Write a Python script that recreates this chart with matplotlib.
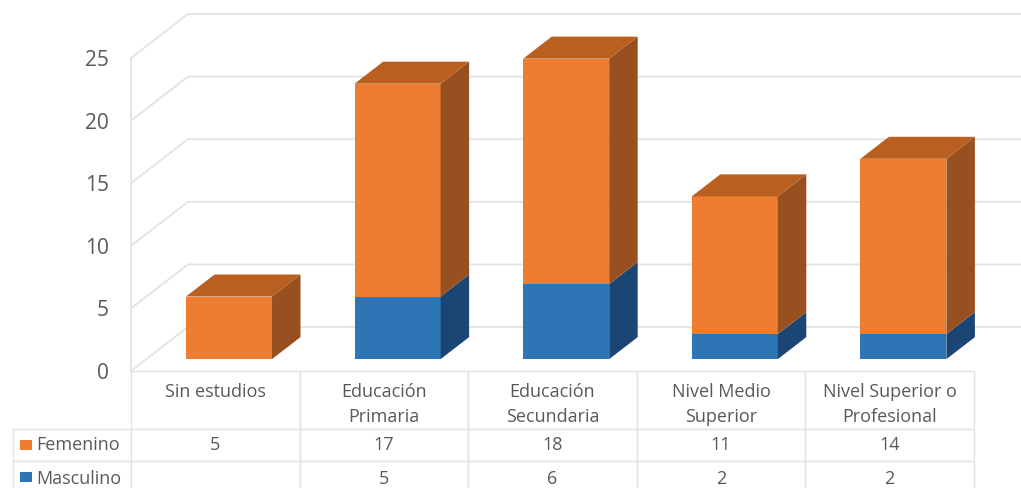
import matplotlib.pyplot as plt
from matplotlib.patches import Rectangle
from matplotlib.table import Table

categories = ["Sin estudios", "Educación\nPrimaria", "Educación\nSecundaria",
              "Nivel Medio\nSuperior", "Nivel Superior o\nProfesional"]
femenino = [5, 17, 18, 11, 14]
masculino = [None, 5, 6, 2, 2]
yticks = [0, 5, 10, 15, 20, 25]

W, H = 1021, 488
LEFT, RIGHT, FLOOR, TOP = 131, 974, 371, 58  # front plane, pixels from top left
COL_PX = (RIGHT - LEFT) / len(categories)
PX_PER_UNIT = (FLOOR - TOP) / 25

# oblique depth of the fake 3d box
DEPTH_X = 57 / COL_PX
DEPTH_Y = 44 / PX_PER_UNIT
BAR_FRONT, BAR_BACK = 0.27, 0.77
BAR_LEFT, BAR_W = 0.235, 0.51

GRID = "#e3e3e3"
TEXT = "#595959"
ORANGE = ("#ed7d31", "#b95f20", "#985020")
BLUE = ("#2e75b6", "#225a8f", "#1b4674")

plt.rcParams["font.family"] = ["Open Sans", "DejaVu Sans"]


def project(x, y, depth):
    return x + depth * DEPTH_X, y + depth * DEPTH_Y


def draw_box(ax, x, bottom, height, colors, show_top):
    x0, x1 = x + BAR_LEFT, x + BAR_LEFT + BAR_W
    y0, y1 = bottom, bottom + height
    fx0, fy0 = project(x0, y0, BAR_FRONT)
    fx1, fy1 = project(x1, y1, BAR_FRONT)
    bx0, by0 = project(x0, y0, BAR_BACK)
    bx1, by1 = project(x1, y1, BAR_BACK)
    ax.bar(fx0, height, width=fx1 - fx0, bottom=fy0, align="edge", color=colors[0],
           lw=0, zorder=3, clip_on=False)
    ax.fill([fx1, bx1, bx1, fx1], [fy0, by0, by1, fy1], color=colors[2], lw=0, zorder=3, clip_on=False)
    if show_top:
        ax.fill([fx0, fx1, bx1, bx0], [fy1, fy1, by1, by1], color=colors[1], lw=0, zorder=3, clip_on=False)


fig = plt.figure(figsize=(W / 100, H / 100), dpi=100)
ax = fig.add_axes([LEFT / W, 1 - FLOOR / H, (RIGHT - LEFT) / W, (FLOOR - TOP) / H])
ax.set_xlim(0, len(categories))
ax.set_ylim(0, 25)
for s in ax.spines.values():
    s.set_visible(False)
ax.patch.set_visible(False)
ax.set_xticks([])
ax.set_yticks(yticks)
ax.tick_params(axis="y", length=0, pad=16, labelsize=15, labelcolor=TEXT)

# walls
n = len(categories)
for v in yticks:
    x_a, y_a = project(0, v, 0)
    x_b, y_b = project(0, v, 1)
    x_c, y_c = project(n, v, 1)
    ax.plot([x_a, x_b, x_c], [y_a, y_b, y_c], color=GRID, lw=1.3, zorder=1, clip_on=False)
ax.plot([0, 0], [0, 25], color=GRID, lw=1.3, zorder=1, clip_on=False)

# stacked boxes
for i in range(n):
    base = 0
    if masculino[i]:
        draw_box(ax, i, 0, masculino[i], BLUE, False)
        base = masculino[i]
    draw_box(ax, i, base, femenino[i], ORANGE, True)

# data table below the plot
row_h = [58, 32, 37]
label_w = LEFT - 13
total_w = RIGHT - 13
total_h = sum(row_h)
tb = Table(ax, bbox=[-label_w / (RIGHT - LEFT), -total_h / (FLOOR - TOP),
                     total_w / (RIGHT - LEFT), total_h / (FLOOR - TOP)])
tb.auto_set_font_size(False)
for c, name in enumerate(categories):
    tb.add_cell(0, c + 1, COL_PX, row_h[0], edgecolor=GRID)
    # header labels sit at the top of their cell, single line ones too
    ax.text(c + 0.5, -12 / PX_PER_UNIT, name, ha="center", va="top", fontsize=13,
            color=TEXT, linespacing=1.5)
rows = [("Femenino", femenino, ORANGE[0]), ("Masculino", masculino, BLUE[0])]
for r, (name, values, color) in enumerate(rows):
    cell = tb.add_cell(r + 1, 0, label_w, row_h[r + 1], text=name, loc="left", edgecolor=GRID)
    cell.PAD = 0.2
    cell.get_text().set_color(TEXT)
    for c, val in enumerate(values):
        txt = "" if val is None else str(val)
        cell = tb.add_cell(r + 1, c + 1, COL_PX, row_h[r + 1], text=txt, loc="center", edgecolor=GRID)
        cell.get_text().set_color(TEXT)
    # legend key
    top = FLOOR + row_h[0] + sum(row_h[1:r + 1])
    fig.add_artist(Rectangle((20 / W, 1 - (top + 21) / H), 12 / W, 10 / H,
                             transform=fig.transFigure, color=color, lw=0, zorder=5))
tb.set_fontsize(13)
ax.add_table(tb)

fig.savefig("out.png", dpi=100)
